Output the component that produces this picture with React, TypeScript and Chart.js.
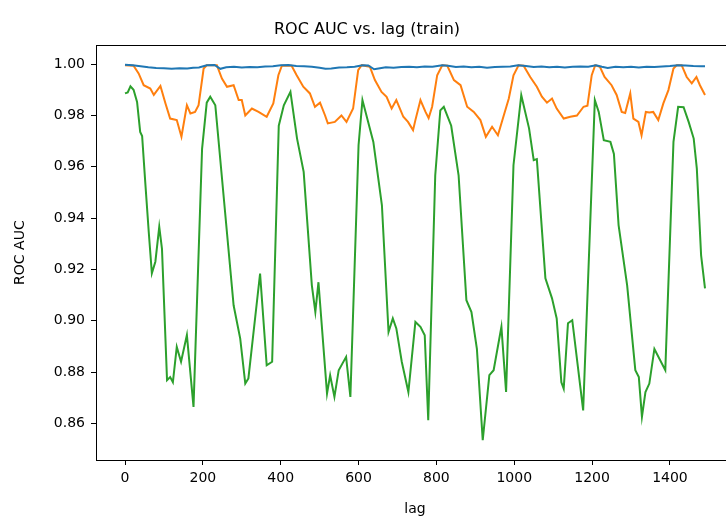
import React, { useEffect, useRef } from "react";
import { Chart, registerables } from "chart.js";

Chart.register(...registerables);

const xTickValues = [0, 200, 400, 600, 800, 1000, 1200, 1400];
const yTickValues = [0.86, 0.88, 0.9, 0.92, 0.94, 0.96, 0.98, 1.0];

const blueLags = [0, 20, 40, 60, 80, 100, 120, 140, 160, 175, 190, 210, 230, 245, 260, 280, 300, 320, 340, 360, 380, 400, 420, 440, 460, 480, 500, 515, 530, 550, 570, 590, 610, 625, 640, 655, 670, 690, 710, 730, 750, 770, 790, 815, 830, 850, 870, 890, 910, 930, 950, 970, 990, 1010, 1030, 1050, 1070, 1090, 1110, 1130, 1150, 1170, 1190, 1210, 1225, 1240, 1260, 1280, 1300, 1320, 1340, 1360, 1380, 1400, 1420, 1440, 1460, 1480, 1490];
const blueAuc = [0.9998, 0.9996, 0.9992, 0.9988, 0.9985, 0.9984, 0.9982, 0.9984, 0.9983, 0.9986, 0.9987, 0.9996, 0.9997, 0.9982, 0.9988, 0.999, 0.9987, 0.9989, 0.9988, 0.9991, 0.9992, 0.9996, 0.9997, 0.9993, 0.9992, 0.999, 0.9986, 0.9982, 0.9983, 0.9987, 0.9988, 0.999, 0.9996, 0.9995, 0.998, 0.9984, 0.9988, 0.9986, 0.9989, 0.999, 0.9988, 0.9991, 0.999, 0.9996, 0.9994, 0.9989, 0.9991, 0.9988, 0.999, 0.9986, 0.9989, 0.999, 0.9991, 0.9996, 0.9993, 0.9989, 0.9991, 0.9988, 0.999, 0.9987, 0.999, 0.9991, 0.999, 0.9996, 0.999, 0.9985, 0.999, 0.9988, 0.999, 0.9987, 0.999, 0.9989, 0.9991, 0.9993, 0.9996, 0.9995, 0.9993, 0.9992, 0.9992];

const orangeLags = [0, 22, 35, 48, 65, 74, 91, 104, 116, 133, 145, 159, 168, 180, 189, 202, 210, 236, 249, 262, 279, 292, 300, 309, 326, 343, 364, 381, 394, 403, 428, 441, 458, 475, 488, 501, 514, 521, 539, 556, 569, 586, 599, 608, 629, 642, 659, 672, 685, 697, 715, 727, 740, 746, 759, 772, 780, 789, 802, 815, 828, 845, 862, 879, 896, 913, 927, 943, 958, 973, 986, 998, 1011, 1024, 1041, 1058, 1071, 1084, 1097, 1109, 1127, 1144, 1161, 1178, 1188, 1199, 1208, 1220, 1232, 1250, 1263, 1276, 1285, 1298, 1306, 1319, 1327, 1338, 1347, 1357, 1370, 1383, 1396, 1409, 1417, 1430, 1443, 1456, 1468, 1477, 1490];
const orangeAuc = [0.9996, 0.9994, 0.9964, 0.9918, 0.9905, 0.988, 0.9915, 0.9847, 0.9788, 0.9782, 0.9717, 0.984, 0.9808, 0.9814, 0.984, 0.9983, 0.9996, 0.9996, 0.9944, 0.9912, 0.9918, 0.986, 0.986, 0.98, 0.9827, 0.9814, 0.9795, 0.9847, 0.9957, 0.9994, 0.9994, 0.9957, 0.9912, 0.9886, 0.9834, 0.985, 0.98, 0.9769, 0.9775, 0.98, 0.9775, 0.9827, 0.9977, 0.9996, 0.999, 0.9938, 0.9892, 0.9873, 0.9827, 0.986, 0.9795, 0.9775, 0.9743, 0.9782, 0.986, 0.9814, 0.979, 0.9834, 0.9957, 0.9996, 0.9994, 0.9938, 0.9918, 0.9834, 0.9814, 0.9782, 0.9717, 0.9756, 0.9723, 0.98, 0.9866, 0.9957, 0.9996, 0.9994, 0.995, 0.9912, 0.9873, 0.985, 0.9866, 0.9827, 0.9788, 0.9795, 0.98, 0.9834, 0.9838, 0.9957, 0.9996, 0.999, 0.995, 0.9918, 0.988, 0.9814, 0.981, 0.9886, 0.9788, 0.9775, 0.9723, 0.9814, 0.9812, 0.9814, 0.9782, 0.9847, 0.9899, 0.9983, 0.9996, 0.9996, 0.995, 0.9925, 0.995, 0.9918, 0.988];

const greenLags = [0, 7, 14, 22, 31, 39, 44, 52, 61, 69, 78, 88, 95, 108, 116, 123, 133, 144, 159, 176, 198, 210, 219, 232, 279, 296, 309, 317, 347, 364, 378, 395, 408, 425, 442, 459, 480, 489, 497, 519, 527, 538, 549, 568, 579, 600, 610, 638, 660, 677, 688, 697, 711, 728, 746, 759, 770, 779, 797, 810, 819, 838, 857, 877, 890, 904, 919, 936, 947, 967, 979, 998, 1018, 1038, 1050, 1058, 1080, 1097, 1109, 1121, 1127, 1138, 1149, 1177, 1207, 1217, 1230, 1247, 1256, 1268, 1290, 1311, 1320, 1328, 1337, 1347, 1360, 1388, 1409, 1421, 1435, 1448, 1461, 1469, 1480, 1490];
const greenAuc = [0.9886, 0.989, 0.9914, 0.99, 0.9853, 0.9736, 0.972, 0.954, 0.9346, 0.9185, 0.923, 0.9366, 0.928, 0.8768, 0.878, 0.876, 0.8898, 0.884, 0.8944, 0.8664, 0.967, 0.985, 0.9873, 0.984, 0.906, 0.893, 0.8755, 0.8775, 0.9184, 0.8826, 0.884, 0.976, 0.984, 0.9892, 0.971, 0.958, 0.9138, 0.9034, 0.915, 0.8716, 0.8787, 0.8703, 0.8807, 0.8859, 0.8703, 0.9684, 0.986, 0.9697, 0.945, 0.8956, 0.9009, 0.897, 0.884, 0.8722, 0.8995, 0.8976, 0.8943, 0.8612, 0.9567, 0.982, 0.9834, 0.976, 0.9567, 0.908, 0.9034, 0.889, 0.8534, 0.8788, 0.8807, 0.8976, 0.8722, 0.9606, 0.9879, 0.975, 0.9626, 0.963, 0.9165, 0.9087, 0.9009, 0.876, 0.8735, 0.899, 0.9002, 0.865, 0.986, 0.9814, 0.9704, 0.9697, 0.965, 0.9373, 0.9138, 0.8807, 0.878, 0.8625, 0.8722, 0.8755, 0.889, 0.8807, 0.9697, 0.9834, 0.9832, 0.9775, 0.971, 0.9593, 0.9255, 0.9126];

const toPoints = (xs: number[], ys: number[]) => xs.map((x, i) => ({ x, y: ys[i] }));

const FONT = "'DejaVu Sans', sans-serif";

const framePlugin = {
  id: "frame",
  afterDraw(chart: any) {
    const { ctx, chartArea } = chart;
    ctx.save();
    ctx.strokeStyle = "#000";
    ctx.lineWidth = 1;
    ctx.strokeRect(
      Math.round(chartArea.left) + 0.5,
      Math.round(chartArea.top) + 0.5,
      Math.round(chartArea.right - chartArea.left),
      Math.round(chartArea.bottom - chartArea.top)
    );
    ctx.restore();
  },
};

export default function App() {
  const canvasRef = useRef<HTMLCanvasElement | null>(null);

  useEffect(() => {
    document.body.style.margin = "0";
    const canvas = canvasRef.current;
    if (!canvas) return;
    const chart = new Chart(canvas, {
      type: "line",
      data: {
        datasets: [
          {
            data: toPoints(blueLags, blueAuc),
            borderColor: "#1f77b4",
            borderWidth: 2,
            pointRadius: 0,
            tension: 0,
            fill: false,
          },
          {
            data: toPoints(orangeLags, orangeAuc),
            borderColor: "#ff7f0e",
            borderWidth: 2,
            pointRadius: 0,
            tension: 0,
            fill: false,
          },
          {
            data: toPoints(greenLags, greenAuc),
            borderColor: "#2ca02c",
            borderWidth: 2,
            pointRadius: 0,
            tension: 0,
            fill: false,
          },
        ],
      },
      options: {
        animation: false,
        responsive: false,
        devicePixelRatio: 1,
        layout: { padding: { left: 0, right: 26, top: 0, bottom: 0 } },
        plugins: {
          legend: { display: false },
          tooltip: { enabled: false },
          title: {
            display: true,
            text: "ROC AUC vs. lag (train)",
            color: "#000",
            font: { family: FONT, size: 16, weight: "normal" },
            padding: { top: 20, bottom: 6 },
          },
        },
        scales: {
          x: {
            type: "linear",
            min: -74.5,
            max: 1564.5,
            afterBuildTicks: (axis: any) => {
              axis.ticks = xTickValues.map((v) => ({ value: v }));
            },
            afterFit: (s: any) => {
              s.height = 56;
            },
            ticks: {
              autoSkip: false,
              maxRotation: 0,
              color: "#000",
              padding: 5,
              font: { family: FONT, size: 14 },
              callback: (v: any) => String(v),
            },
            grid: {
              display: true,
              drawOnChartArea: false,
              drawTicks: true,
              tickLength: 5,
              color: "#000",
            },
            border: { display: false },
            title: {
              display: true,
              text: "lag",
              color: "#000",
              font: { family: FONT, size: 14 },
              padding: { top: 0, bottom: -2 },
            },
          },
          y: {
            type: "linear",
            min: 0.8457,
            max: 1.0074,
            afterBuildTicks: (axis: any) => {
              axis.ticks = yTickValues.map((v) => ({ value: v }));
            },
            afterFit: (s: any) => {
              s.width = 96;
            },
            ticks: {
              autoSkip: false,
              color: "#000",
              padding: 6,
              font: { family: FONT, size: 14 },
              callback: (v: any) => Number(v).toFixed(2),
            },
            grid: {
              display: true,
              drawOnChartArea: false,
              drawTicks: true,
              tickLength: 5,
              color: "#000",
            },
            border: { display: false },
            title: {
              display: true,
              text: "ROC AUC",
              color: "#000",
              font: { family: FONT, size: 14 },
              padding: { top: 12, bottom: 0 },
            },
          },
        },
      },
      plugins: [framePlugin],
    } as any);
    return () => chart.destroy();
  }, []);

  return (
    <div
      style={{
        position: "fixed",
        left: 0,
        top: 0,
        width: 726,
        height: 516,
        overflow: "hidden",
        background: "#fff",
      }}
    >
      <canvas ref={canvasRef} width={760} height={516} style={{ display: "block" }} />
    </div>
  );
}
